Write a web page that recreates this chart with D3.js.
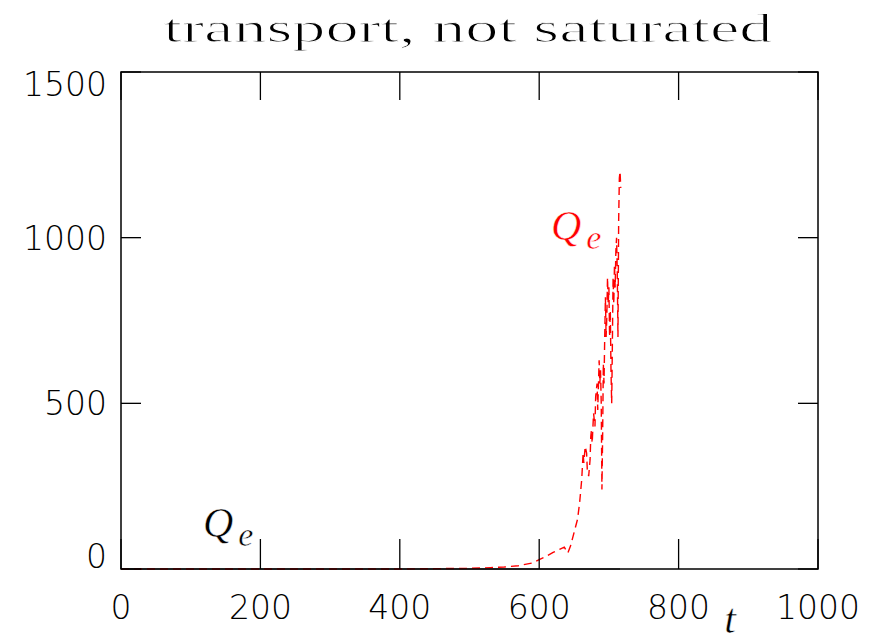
<!DOCTYPE html>
<html><head><meta charset="utf-8">
<script src="https://cdn.jsdelivr.net/npm/d3@7"></script>
<style>body{margin:0;background:#fff}</style>
</head><body>
<svg id="c" width="875" height="644"></svg>
<script>
const xTicks = [0, 200, 400, 600, 800, 1000];
const yTicks = [0, 500, 1000, 1500];
const redT = [0,100,200,300,400,450,500,530,550,570,590,600,610,620,630,636,641,645,650,655,658,661,663,664,666,668,669,671,673,674,675,676,678,680,681,683,684,686,687,688,689,690,691,692,693,694,695,696,697,698,699,700,701,702,703,704,705,706,707,708,709,710,711,712,713,714,715,716,717];
const redV = [0,0,0,0,0,1,2,4,6,10,18,28,38,50,60,66,48,70,110,150,200,270,350,320,370,350,300,280,330,400,420,380,470,430,520,560,480,630,560,600,500,240,400,620,560,700,820,700,760,880,800,850,700,780,600,500,680,880,800,920,850,960,1000,900,700,1050,1180,1200,1150];
const blackT = [0, 200, 400, 600, 716];
const blackV = [0, 0, 0, 0, 0];

const svg = d3.select("#c");
const L=121,R=818,T=72,B=569;
const x = d3.scaleLinear().domain([0,1000]).range([L,R]);
const y = d3.scaleLinear().domain([0,1500]).range([B,T]);

svg.append("text").attr("x",468).attr("y",42).attr("text-anchor","middle")
  .attr("font-family","Liberation Serif").attr("font-size",40)
  .attr("stroke","#fff").attr("stroke-width",1.0)
  .attr("textLength",609).attr("lengthAdjust","spacingAndGlyphs")
  .text("transport, not saturated");

const g = svg.append("g");
const line = d3.line().x(d=>x(d[0])).y(d=>y(d[1]));
g.append("path").datum(blackT.map((t,i)=>[t,blackV[i]])).attr("d",line)
  .attr("fill","none").attr("stroke","#000").attr("stroke-width",1.2);
g.append("path").datum(redT.map((t,i)=>[t,redV[i]])).attr("d",line)
  .attr("fill","none").attr("stroke","#ff0000").attr("stroke-width",1.4)
  .attr("stroke-dasharray","8,5");

g.append("rect").attr("x",L).attr("y",T).attr("width",R-L).attr("height",B-T)
  .attr("fill","none").attr("stroke","#000").attr("stroke-width",1.5);
xTicks.forEach(t=>{
  g.append("line").attr("x1",x(t)).attr("x2",x(t)).attr("y1",B).attr("y2",B-30).attr("stroke","#000").attr("stroke-width",1.3);
  g.append("line").attr("x1",x(t)).attr("x2",x(t)).attr("y1",T).attr("y2",T+28).attr("stroke","#000").attr("stroke-width",1.3);
  svg.append("text").attr("x",x(t)).attr("y",619).attr("text-anchor","middle")
    .attr("font-family","DejaVu Sans").attr("font-size",33).attr("font-weight",200).text(t);
});
yTicks.forEach(t=>{
  g.append("line").attr("x1",L).attr("x2",L+20).attr("y1",y(t)).attr("y2",y(t)).attr("stroke","#000").attr("stroke-width",1.3);
  g.append("line").attr("x1",R).attr("x2",R-20).attr("y1",y(t)).attr("y2",y(t)).attr("stroke","#000").attr("stroke-width",1.3);
  let yy = y(t)+12;
  if (t===1500) yy = y(t)+24;
  if (t===0) yy = y(t)-1;
  svg.append("text").attr("x",107).attr("y",yy).attr("text-anchor","end")
    .attr("font-family","DejaVu Sans").attr("font-size",33).attr("font-weight",200).text(t);
});

function qlabel(px,py,color){
  const tx = svg.append("text").attr("x",px).attr("y",py).attr("fill",color)
    .attr("stroke","#fff").attr("stroke-width",0.5)
    .attr("font-family","Liberation Serif").attr("font-style","italic").attr("font-size",42);
  tx.append("tspan").text("Q");
  tx.append("tspan").attr("dy",9).attr("dx",5).attr("font-size",34).text("e");
}
qlabel(203,537,"#000");
qlabel(551,240,"#ff0000");
svg.append("text").attr("x",730).attr("y",633).attr("text-anchor","middle")
  .attr("stroke","#fff").attr("stroke-width",0.5)
  .attr("font-family","Liberation Serif").attr("font-style","italic").attr("font-size",42).text("t");
</script>
</body></html>
